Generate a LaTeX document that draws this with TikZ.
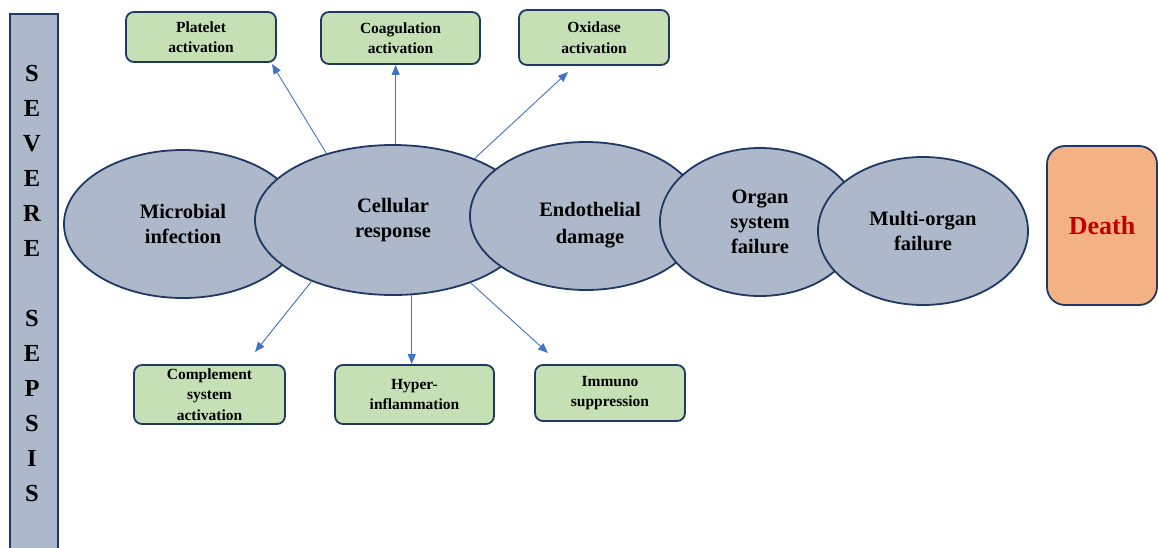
\documentclass[tikz,border=0pt]{standalone}
\usepackage{fontspec}
\setmainfont{Liberation Serif}
\usetikzlibrary{shapes.geometric,arrows.meta}
\definecolor{navy}{HTML}{1F3864}
\definecolor{slate}{HTML}{ADB9CA}
\definecolor{leaf}{HTML}{C5E0B4}
\definecolor{peach}{HTML}{F4B183}
\definecolor{deathred}{HTML}{C00000}
\definecolor{arrowblue}{HTML}{4472C4}
\tikzset{
  stage/.style={ellipse, draw=navy, line width=1.8pt, fill=slate, inner sep=0pt,
    align=center, font=\fontsize{20.5}{25}\selectfont\bfseries},
  stagetext/.style={align=center, inner sep=0pt, font=\fontsize{20.5}{27}\selectfont\bfseries},
  effect/.style={rectangle, rounded corners=8pt, draw=navy, line width=1.8pt, fill=leaf,
    inner sep=0pt, align=center, font=\fontsize{15.5}{20.5}\selectfont\bfseries},
  branch/.style={draw=arrowblue, line width=0.9pt, -{Triangle[length=10pt,width=8pt]}},
}
\begin{document}
\begin{tikzpicture}[x=1pt,y=-1pt]
\useasboundingbox (0,0) rectangle (1158,547);

% vertical title bar
\node[draw=navy, line width=1.8pt, fill=slate, minimum width=48pt, minimum height=560pt,
  inner sep=0pt, anchor=north west] (bar) at (9,13) {};
\node[align=center, font=\fontsize{24.5}{35}\selectfont\bfseries] (title) at (32,283)
  {S\\E\\V\\E\\R\\E\\ \\S\\E\\P\\S\\I\\S};

% progression stages, each drawn over the previous one
\node[stage, minimum width=238pt, minimum height=148pt] (mic) at (183,224) {Microbial\\infection};
\node[stage, minimum width=276pt, minimum height=150pt] (cell) at (393,220) {Cellular\\response};
\node[stage, minimum width=232pt, minimum height=148pt] (endo) at (586,216) {};
\node[stagetext] (endotext) at ([xshift=4pt,yshift=-9pt]endo.center) {Endothelial\\damage};
\node[stage, minimum width=200pt, minimum height=148pt] (organ) at (760,222) {Organ\\system\\failure};
\node[stage, minimum width=210pt, minimum height=148pt] (multi) at (923,231) {Multi-organ\\failure};

\node[rectangle, rounded corners=18pt, draw=navy, line width=1.8pt, fill=peach,
  minimum width=110pt, minimum height=159pt, inner sep=0pt,
  font=\fontsize{26}{30}\selectfont\bfseries, text=deathred] (death) at (1102,225.5) {Death};

% consequences of the cellular response
\node[effect, minimum width=150pt, minimum height=50pt] (plat) at (201,37) {Platelet\\activation};
\node[effect, minimum width=159pt, minimum height=52pt] (coag) at (400.5,38) {Coagulation\\activation};
\node[effect, minimum width=150pt, minimum height=55pt] (oxi) at (594,37.5) {Oxidase\\activation};
\node[effect, minimum width=151pt, minimum height=59pt] (comp) at (209.5,394.5) {Complement\\system\\activation};
\node[effect, minimum width=159pt, minimum height=59pt] (hyper) at (414.5,394.5) {Hyper-\\inflammation};
\node[effect, minimum width=150pt, minimum height=56pt] (immu) at (610,393) {Immuno\\suppression};

% arrow tips stop short of the boxes
\coordinate (tipplat) at (272,64);
\coordinate (tipoxi) at (568,72);
\coordinate (tipcomp) at (255,352);
\coordinate (tipimmu) at (548,353);

\draw[branch] (cell.135) -- (tipplat);
\draw[branch] (cell.88) -- (cell.88 |- coag.south);
\draw[branch] (cell.37) -- (tipoxi);
\draw[branch] (cell.217) -- (tipcomp);
\draw[branch] (cell.284) -- (cell.284 |- hyper.north);
\draw[branch] (cell.321) -- (tipimmu);
\end{tikzpicture}
\end{document}
